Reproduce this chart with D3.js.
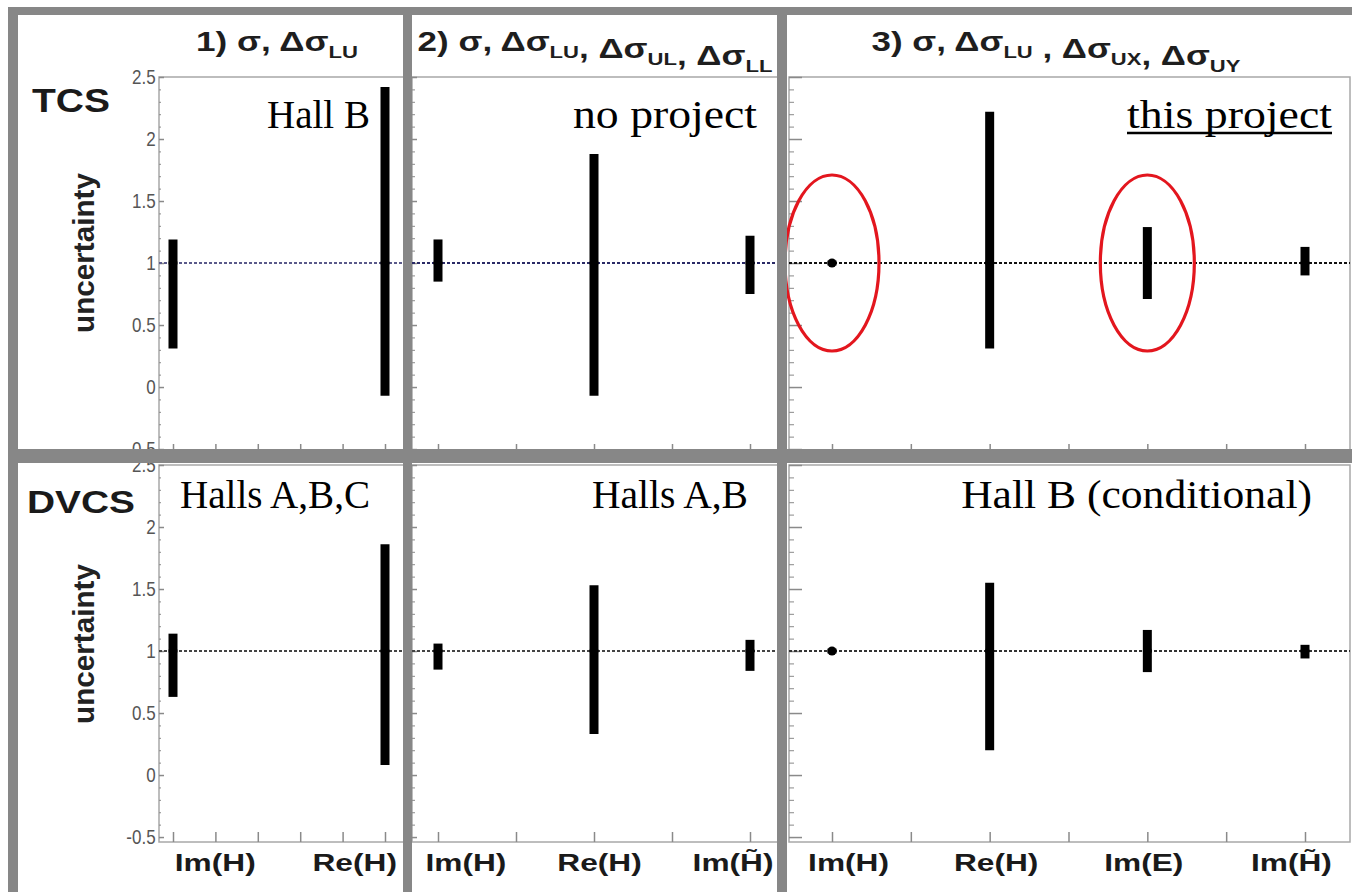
<!DOCTYPE html>
<html>
<head>
<meta charset="utf-8">
<script src="https://cdn.jsdelivr.net/npm/d3@7"></script>
<style>
    body { margin: 0; background: #fff; }
    svg { display: block; }
</style>
</head>
<body>
<div id="chart"></div>
<script>
// ---- data ----
const processes = ['TCS', 'DVCS'];
const categories = [
    ['Im(H)', 'Re(H)'],
    ['Im(H)', 'Re(H)', 'Im(H\u0303)'],
    ['Im(H)', 'Re(H)', 'Im(E)', 'Im(H\u0303)'],
];
// title pieces: [normal text, subscript]
const titles = [
    [['1) σ, Δσ', 'LU']],
    [['2) σ, Δσ', 'LU'], [', Δσ', 'UL'], [', Δσ', 'LL']],
    [['3) σ, Δσ', 'LU'], [' , Δσ', 'UX'], [', Δσ', 'UY']],
];
const tcsLow = [[0.31, -0.07], [0.85, -0.07, 0.75], [0.98, 0.31, 0.71, 0.90]];
const tcsHigh = [[1.19, 2.42], [1.19, 1.88, 1.22], [1.02, 2.22, 1.29, 1.13]];
const dvcsLow = [[0.63, 0.08], [0.85, 0.33, 0.84], [0.98, 0.20, 0.83, 0.94]];
const dvcsHigh = [[1.14, 1.86], [1.06, 1.53, 1.09], [1.02, 1.55, 1.17, 1.05]];
const central = 1;
const notes = [
    ['Hall B', 'no project', 'this project'],
    ['Halls A,B,C', 'Halls A,B', 'Hall B (conditional)'],
];
const yTicks = [-0.5, 0, 0.5, 1, 1.5, 2, 2.5];
const circled = ['Im(H)', 'Im(E)']; // TCS, panel 3

// ---- layout ----
const W = 1352;
const H = 892;
const rootFont = '"Liberation Sans", Arial, sans-serif';
const serifFont = '"Liberation Serif", "Times New Roman", serif';
const yDomain = [-0.54, 2.5];
const cols = [
    { left: 159, right: 410, first: 173, last: 385, minor: 0.2, yMajor: 5, yMinor: 2, titleX: 277, titleW: 162 },
    { left: 412, right: 786, first: 438, last: 750, minor: 0.5, yMajor: 5, yMinor: 3, titleX: 595, titleW: 355 },
    { left: 789, right: 1350, first: 832, last: 1305, minor: 0.5, yMajor: 13, yMinor: 5, titleX: 1056, titleW: 369 },
];
const rowBox = [{ top: 77, bottom: 454 }, { top: 465, bottom: 842 }];
const rowClip = [[0, 449], [463, H]];
const noteRight = [[370, 757, 1332], [370, 748, 1312]];
const noteWidth = [[103, 184, 205], [190, 156, 351]];
const noteBase = [128, 508];
const refColor = [['#5a5a8a', '#2a2a66', '#111'], ['#444', '#444', '#333']];
const rowLabel = [{ x: 71, y: 112, w: 78, size: 33 }, { x: 81, y: 513, w: 108, size: 32 }];
const yTitleMid = [253, 644];

// squeeze/stretch a text horizontally to a wanted width, around its own anchor
function fitWidth(sel, width) {
    const len = sel.node().getComputedTextLength();
    const x = +sel.attr('x') || 0;
    const y = +sel.attr('y') || 0;
    const k = width / len;
    sel.attr('transform', `translate(${x},${y}) scale(${k},1) translate(${-x},${-y})`);
}

const svg = d3.select('#chart')
    .append('svg')
    .attr('width', W)
    .attr('height', H);

svg.append('rect')
    .attr('width', W)
    .attr('height', H)
    .attr('fill', '#fff');

const defs = svg.append('defs');
rowClip.forEach(([y0, y1], r) => {
    defs.append('clipPath')
        .attr('id', `row-${r}`)
        .append('rect')
        .attr('x', 0)
        .attr('y', y0)
        .attr('width', W)
        .attr('height', y1 - y0);
});

processes.forEach((proc, r) => {
    const low = r === 0 ? tcsLow : dvcsLow;
    const high = r === 0 ? tcsHigh : dvcsHigh;
    const box = rowBox[r];
    const row = svg.append('g').attr('clip-path', `url(#row-${r})`);

    const y = d3.scaleLinear()
        .domain(yDomain)
        .range([box.bottom, box.top]);

    cols.forEach((c, p) => {
        const cats = categories[p];
        const x = d3.scaleLinear()
            .domain([0, cats.length - 1])
            .range([c.first, c.last]);
        const g = row.append('g');

        // frame
        g.append('rect')
            .attr('x', c.left)
            .attr('y', box.top)
            .attr('width', c.right - c.left)
            .attr('height', box.bottom - box.top)
            .attr('fill', 'none')
            .attr('stroke', '#a8a8a8')
            .attr('stroke-width', 1.5);

        // y axis, minor then major ticks (pointing inwards)
        const minorY = d3.range(-5, 26).map((v) => v / 10);
        g.append('g')
            .attr('transform', `translate(${c.left},0)`)
            .call(d3.axisLeft(y).tickValues(minorY).tickSize(-c.yMinor).tickFormat(''))
            .call((s) => s.select('.domain').remove())
            .selectAll('line')
            .attr('stroke', '#8a8a8a');

        const yAxis = g.append('g')
            .attr('transform', `translate(${c.left},0)`)
            .call(d3.axisLeft(y)
                .tickValues(yTicks)
                .tickSize(-c.yMajor)
                .tickPadding(4)
                .tickFormat(p === 0 ? (v) => String(v) : ''));
        yAxis.select('.domain').remove();
        yAxis.selectAll('line').attr('stroke', '#8a8a8a').attr('stroke-width', 1.5);
        yAxis.selectAll('text')
            .attr('font-family', rootFont)
            .attr('font-size', 20)
            .attr('fill', '#555')
            .attr('transform', 'scale(0.85,1)');

        // x axis ticks along the bottom
        const xTicks = d3.range(0, cats.length - 1 + 1e-6, c.minor);
        const xAxis = g.append('g')
            .attr('transform', `translate(0,${box.bottom})`)
            .call(d3.axisBottom(x).tickValues(xTicks).tickSize(-10).tickFormat(''));
        xAxis.select('.domain').remove();
        xAxis.selectAll('line').attr('stroke', '#8a8a8a').attr('stroke-width', 1.5);

        // reference line at 1
        g.append('line')
            .attr('x1', c.left)
            .attr('x2', c.right)
            .attr('y1', y(central))
            .attr('y2', y(central))
            .attr('stroke', refColor[r][p])
            .attr('stroke-width', 2)
            .attr('stroke-dasharray', '3,2');

        // uncertainty bars + central marker
        g.selectAll('line.bar')
            .data(cats)
            .join('line')
            .attr('class', 'bar')
            .attr('x1', (d, i) => x(i))
            .attr('x2', (d, i) => x(i))
            .attr('y1', (d, i) => y(low[p][i]))
            .attr('y2', (d, i) => y(high[p][i]))
            .attr('stroke', '#000')
            .attr('stroke-width', 9);

        g.selectAll('circle.marker')
            .data(cats)
            .join('circle')
            .attr('class', 'marker')
            .attr('cx', (d, i) => x(i))
            .attr('cy', y(central))
            .attr('r', 4.5)
            .attr('fill', '#000');

        // red circles for this project
        if (r === 0 && p === 2) {
            cats.forEach((d, i) => {
                if (!circled.includes(d)) return;
                g.append('ellipse')
                    .attr('cx', x(i))
                    .attr('cy', y(central))
                    .attr('rx', 47)
                    .attr('ry', 88)
                    .attr('fill', 'none')
                    .attr('stroke', '#e3161e')
                    .attr('stroke-width', 3.2);
            });
        }

        // category labels (only visible under the lower row)
        if (r === 1) {
            const labelScale = d3.scalePoint()
                .domain(cats)
                .range([c.left, c.right])
                .padding(0.4);
            const labels = g.append('g')
                .attr('transform', `translate(0,${box.bottom})`)
                .call(d3.axisBottom(labelScale).tickSize(0).tickPadding(12));
            labels.select('.domain').remove();
            labels.selectAll('text')
                .attr('font-family', rootFont)
                .attr('font-weight', 'bold')
                .attr('font-size', 24)
                .attr('fill', '#1a1a1a')
                .attr('transform', 'scale(1.32,1)');
        }

        // panel title (upper row only)
        if (r === 0) {
            const t = g.append('text')
                .attr('x', c.titleX)
                .attr('y', 51)
                .attr('text-anchor', 'middle')
                .attr('font-family', rootFont)
                .attr('font-weight', 'bold')
                .attr('font-size', 27)
                .attr('fill', '#1e1e1e');
            titles[p].forEach(([main, sub]) => {
                t.append('tspan').attr('dy', 0).text(main);
                t.append('tspan').attr('dy', 7).attr('font-size', 17).text(sub);
                t.append('tspan').attr('dy', -7).text('');
            });
            fitWidth(t, c.titleW);
        }

        // hall annotation
        const note = g.append('text')
            .attr('x', noteRight[r][p])
            .attr('y', noteBase[r])
            .attr('text-anchor', 'end')
            .attr('font-family', serifFont)
            .attr('font-size', 40)
            .attr('fill', '#000')
            .text(notes[r][p]);
        fitWidth(note, noteWidth[r][p]);
        if (notes[r][p] === 'this project') {
            g.append('line')
                .attr('x1', noteRight[r][p] - noteWidth[r][p])
                .attr('x2', noteRight[r][p])
                .attr('y1', noteBase[r] + 5)
                .attr('y2', noteBase[r] + 5)
                .attr('stroke', '#000')
                .attr('stroke-width', 2.5);
        }
    });

    // row label and y title
    const lab = row.append('text')
        .attr('x', rowLabel[r].x)
        .attr('y', rowLabel[r].y)
        .attr('text-anchor', 'middle')
        .attr('font-family', rootFont)
        .attr('font-weight', 'bold')
        .attr('font-size', rowLabel[r].size)
        .attr('fill', '#1a1a1a')
        .text(proc);
    fitWidth(lab, rowLabel[r].w);

    row.append('text')
        .attr('transform', `translate(94,${yTitleMid[r]}) rotate(-90)`)
        .attr('text-anchor', 'middle')
        .attr('font-family', rootFont)
        .attr('font-weight', 'bold')
        .attr('font-size', 30)
        .attr('fill', '#222')
        .attr('textLength', 160)
        .attr('lengthAdjust', 'spacingAndGlyphs')
        .text('uncertainty');
});

// thick grey frame between the pads
const frame = svg.append('g').attr('fill', '#878787');
frame.append('rect').attr('x', 8).attr('y', 7).attr('width', W - 8).attr('height', 8);
frame.append('rect').attr('x', 8).attr('y', 7).attr('width', 10).attr('height', H - 7);
frame.append('rect').attr('x', 403).attr('y', 7).attr('width', 9).attr('height', H - 7);
frame.append('rect').attr('x', 777).attr('y', 7).attr('width', 10).attr('height', H - 7);
frame.append('rect').attr('x', 8).attr('y', 449).attr('width', W - 8).attr('height', 14);
</script>
</body>
</html>
